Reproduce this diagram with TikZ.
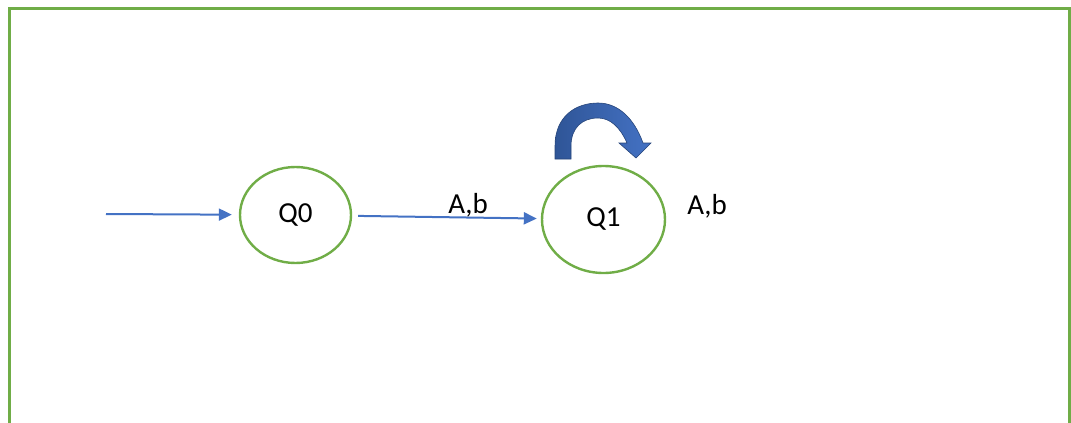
\documentclass[tikz,border=0pt]{standalone}
\usepackage{fontspec}
\setmainfont{Carlito}
\usetikzlibrary{shapes.geometric,arrows.meta}
\definecolor{frameg}{HTML}{70AD47}
\definecolor{arrb}{HTML}{4472C4}
\definecolor{darkb}{HTML}{2F5597}
\tikzset{
  state/.style={ellipse, draw=frameg, line width=2.4pt, inner sep=0pt, font=\fontsize{29}{34}\selectfont},
  lbl/.style={inner sep=0pt, font=\fontsize{29}{34}\selectfont},
  edge/.style={draw=arrb, line width=2pt, -{Triangle[length=13pt,width=12pt]}},
}
\begin{document}
\begin{tikzpicture}[x=1pt,y=-1pt]
\useasboundingbox (0,0) rectangle (1071,423);
\draw[frameg, line width=3pt] (9,430) -- (9,8.5) -- (1069.5,8.5) -- (1069.5,430);
\node[state, minimum width=111pt, minimum height=96pt] (Q0) at (295.5,215) {Q0};
\node[state, minimum width=123pt, minimum height=107pt] (Q1) at (603.5,219.5) {Q1};
\coordinate (start) at (106,214);
\draw[edge, shorten >=7pt] (start) -- (Q0);
\draw[edge, shorten <=6pt, shorten >=4pt] (Q0) -- (Q1);
\node[lbl, anchor=base] (l1) at (468,213) {A,b};
\node[lbl, anchor=base] (l2) at (707,214) {A,b};
% self-loop block arrow
\path[draw=darkb!80!black, line width=0.6pt, left color=darkb, right color=arrb]
  (555,159) -- (555,146)
  .. controls (555,116) and (576,103) .. (598,103)
  .. controls (618,103) and (634,118) .. (643,143)
  -- (651,143) -- (636,158) -- (619,143) -- (627,143)
  .. controls (620,127) and (610,118) .. (598,118)
  .. controls (582,118) and (571,128) .. (571,146)
  -- (571,159) -- cycle;
\end{tikzpicture}
\end{document}
